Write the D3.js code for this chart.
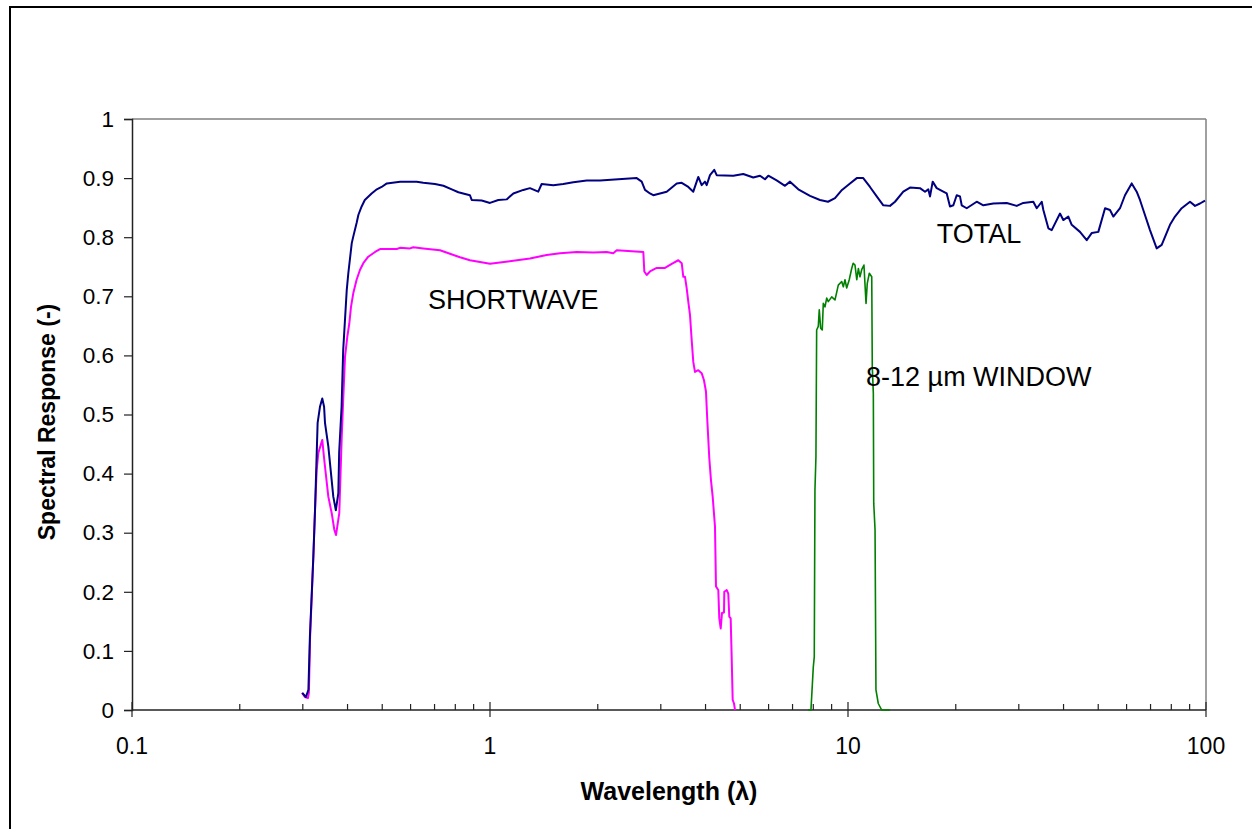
<!DOCTYPE html>
<html>
<head>
<meta charset="utf-8">
<script src="https://cdn.jsdelivr.net/npm/d3@7"></script>
<style>
  html, body { margin: 0; padding: 0; background: #fff; }
  svg { display: block; }
  text { font-family: "Liberation Sans", Arial, sans-serif; fill: #000; }
</style>
</head>
<body>
<svg id="chart" width="1252" height="829"></svg>
<script>
// ---- data: [wavelength (µm), spectral response] ----
const totalData = [[0.299,0.029],[0.306,0.022],[0.311,0.034],[0.314,0.124],[0.321,0.259],[0.3245,0.338],[0.330,0.486],[0.335,0.513],[0.340,0.527],[0.344,0.513],[0.346,0.486],[0.3535,0.446],[0.365,0.361],[0.371,0.338],[0.377,0.367],[0.379,0.435],[0.385,0.513],[0.389,0.609],[0.398,0.711],[0.402,0.739],[0.411,0.790],[0.415,0.801],[0.424,0.824],[0.429,0.838],[0.438,0.852],[0.447,0.863],[0.467,0.874],[0.483,0.881],[0.498,0.885],[0.515,0.891],[0.561,0.894],[0.624,0.894],[0.651,0.892],[0.702,0.890],[0.741,0.887],[0.782,0.881],[0.816,0.876],[0.852,0.873],[0.879,0.871],[0.889,0.863],[0.948,0.862],[1.0,0.858],[1.055,0.863],[1.113,0.864],[1.162,0.874],[1.239,0.880],[1.293,0.883],[1.364,0.877],[1.394,0.890],[1.502,0.888],[1.602,0.890],[1.709,0.893],[1.863,0.896],[2.029,0.896],[2.569,0.900],[2.653,0.894],[2.710,0.880],[2.798,0.874],[2.858,0.871],[3.116,0.877],[3.323,0.891],[3.432,0.892],[3.580,0.885],[3.697,0.877],[3.818,0.902],[3.902,0.888],[3.986,0.894],[4.029,0.888],[4.116,0.905],[4.231,0.914],[4.297,0.905],[4.782,0.904],[5.099,0.907],[5.438,0.901],[5.677,0.904],[5.864,0.898],[5.990,0.904],[6.320,0.896],[6.668,0.887],[6.887,0.894],[7.264,0.881],[7.832,0.870],[8.352,0.863],[8.794,0.860],[9.198,0.866],[9.620,0.880],[10.13,0.891],[10.58,0.900],[11.03,0.900],[11.52,0.885],[12.03,0.869],[12.55,0.854],[13.10,0.853],[13.53,0.860],[14.27,0.877],[14.90,0.884],[15.89,0.883],[16.41,0.877],[16.76,0.881],[16.95,0.869],[17.24,0.894],[17.69,0.883],[18.46,0.877],[18.87,0.874],[19.27,0.852],[19.69,0.854],[20.12,0.871],[20.55,0.869],[20.78,0.854],[21.46,0.849],[22.88,0.860],[23.88,0.854],[25.46,0.857],[27.76,0.858],[29.60,0.853],[30.88,0.858],[32.93,0.860],[33.67,0.849],[34.77,0.860],[35.13,0.846],[36.28,0.815],[37.07,0.812],[39.10,0.840],[39.94,0.829],[41.25,0.835],[42.16,0.821],[44.46,0.809],[46.43,0.795],[47.94,0.807],[50.03,0.809],[52.24,0.849],[53.93,0.846],[55.10,0.835],[57.52,0.849],[59.39,0.871],[62.01,0.891],[64.03,0.877],[65.40,0.863],[66.81,0.846],[69.75,0.812],[72.82,0.781],[75.21,0.787],[79.32,0.821],[81.91,0.835],[85.52,0.849],[90.22,0.860],[93.18,0.853],[96.21,0.857],[99.36,0.862]];

const shortwaveData = [[0.2985,0.029],[0.304,0.022],[0.310,0.020],[0.312,0.029],[0.3144,0.124],[0.321,0.259],[0.3245,0.338],[0.328,0.406],[0.3315,0.435],[0.340,0.457],[0.3444,0.423],[0.3535,0.361],[0.3613,0.333],[0.3674,0.305],[0.3714,0.296],[0.3793,0.333],[0.3853,0.462],[0.389,0.525],[0.3936,0.598],[0.3995,0.632],[0.4046,0.654],[0.409,0.682],[0.415,0.705],[0.424,0.728],[0.4335,0.745],[0.4427,0.756],[0.457,0.767],[0.4775,0.775],[0.4929,0.780],[0.5487,0.780],[0.5605,0.782],[0.5977,0.781],[0.6107,0.783],[0.651,0.781],[0.725,0.778],[0.773,0.772],[0.8245,0.766],[0.879,0.761],[1.0,0.755],[1.066,0.757],[1.162,0.760],[1.293,0.764],[1.440,0.770],[1.569,0.773],[1.747,0.775],[1.944,0.774],[2.118,0.775],[2.210,0.773],[2.259,0.778],[2.681,0.775],[2.698,0.742],[2.740,0.736],[2.798,0.742],[2.922,0.748],[3.082,0.748],[3.218,0.755],[3.357,0.761],[3.432,0.756],[3.467,0.733],[3.505,0.733],[3.543,0.714],[3.580,0.691],[3.620,0.668],[3.659,0.626],[3.697,0.589],[3.737,0.572],[3.818,0.575],[3.902,0.570],[3.960,0.558],[4.011,0.539],[4.045,0.491],[4.098,0.426],[4.142,0.389],[4.188,0.361],[4.251,0.310],[4.278,0.209],[4.342,0.203],[4.370,0.155],[4.410,0.138],[4.446,0.164],[4.504,0.165],[4.513,0.200],[4.583,0.203],[4.630,0.197],[4.660,0.158],[4.702,0.155],[4.732,0.090],[4.763,0.017],[4.804,0.011],[4.835,0.0]];

const windowData = [[7.73,0.0],[7.88,0.0],[8.00,0.073],[8.05,0.090],[8.085,0.372],[8.137,0.429],[8.174,0.643],[8.26,0.649],[8.313,0.677],[8.388,0.646],[8.475,0.643],[8.531,0.688],[8.625,0.682],[8.719,0.697],[8.810,0.691],[9.005,0.699],[9.198,0.694],[9.395,0.719],[9.603,0.725],[9.703,0.716],[9.808,0.728],[9.917,0.714],[10.08,0.728],[10.24,0.747],[10.34,0.756],[10.46,0.753],[10.58,0.728],[10.69,0.747],[10.80,0.733],[10.92,0.745],[11.08,0.753],[11.23,0.688],[11.32,0.722],[11.47,0.739],[11.65,0.733],[11.69,0.581],[11.77,0.536],[11.80,0.350],[11.90,0.305],[11.97,0.034],[12.15,0.011],[12.42,0.0],[13.10,0.0]];

const yTicks = [0, 0.1, 0.2, 0.3, 0.4, 0.5, 0.6, 0.7, 0.8, 0.9, 1];
const xMajorTicks = [0.1, 1, 10, 100];
const xTickLabels = ["0.1", "1", "10", "100"];
const xMinorMultipliers = [2, 3, 4, 5, 6, 7, 8, 9];

const seriesLabels = [
  { text: "TOTAL", wl: 17.7, r: 0.790 },
  { text: "SHORTWAVE", wl: 0.671, r: 0.679 },
  { text: "8-12 µm WINDOW", wl: 11.23, r: 0.548 }
];

(function () {
  const svg = d3.select("#chart");
  const mL = 132, mR = 1206, mT = 119, mB = 710;

  const x = d3.scaleLog().domain([0.1, 100]).range([mL, mR]);
  const y = d3.scaleLinear().domain([0, 1]).range([mB, mT]);

  // outer frame (extends past the window on right/bottom)
  svg.append("rect")
    .attr("x", 10).attr("y", 7).attr("width", 1260).attr("height", 840)
    .attr("fill", "#fff").attr("stroke", "#000").attr("stroke-width", 2);

  // plot area top/right border (gray)
  svg.append("line").attr("x1", mL).attr("x2", mR).attr("y1", mT).attr("y2", mT)
    .attr("stroke", "#808080").attr("stroke-width", 1.5);
  svg.append("line").attr("x1", mR).attr("x2", mR).attr("y1", mT).attr("y2", mB)
    .attr("stroke", "#808080").attr("stroke-width", 1.5);

  // y axis
  const yAxis = d3.axisLeft(y).tickValues(yTicks).tickSize(8).tickPadding(10)
    .tickFormat(d => String(Math.round(d * 10) / 10));
  const gy = svg.append("g").attr("transform", `translate(${mL},0)`).call(yAxis);
  gy.select(".domain").attr("stroke", "#222").attr("stroke-width", 1.5);
  gy.selectAll(".tick line").attr("stroke", "#222").attr("stroke-width", 1.2);
  gy.selectAll(".tick text").attr("font-size", 22.5)
    .attr("font-family", "'Liberation Sans', Arial, sans-serif").attr("fill", "#000");

  // x axis (major ticks crossing, minor ticks inside)
  const minorTicks = [];
  [0.1, 1, 10].forEach(dec => {
    xMinorMultipliers.forEach(m => minorTicks.push(+(dec * m).toPrecision(3)));
  });
  const gx = svg.append("g").attr("transform", `translate(0,${mB})`);
  gx.append("line").attr("x1", mL).attr("x2", mR).attr("y1", 0).attr("y2", 0)
    .attr("stroke", "#222").attr("stroke-width", 1.5);
  gx.selectAll("line.minor").data(minorTicks).enter().append("line")
    .attr("class", "minor")
    .attr("x1", d => x(d)).attr("x2", d => x(d)).attr("y1", 0).attr("y2", -6)
    .attr("stroke", "#222").attr("stroke-width", 1.2);
  gx.selectAll("line.major").data(xMajorTicks).enter().append("line")
    .attr("class", "major")
    .attr("x1", d => x(d)).attr("x2", d => x(d)).attr("y1", -8).attr("y2", 7)
    .attr("stroke", "#222").attr("stroke-width", 1.2);
  gx.selectAll("text.xl").data(xMajorTicks).enter().append("text")
    .attr("class", "xl")
    .attr("x", d => x(d)).attr("y", 44)
    .attr("text-anchor", "middle").attr("font-size", 23)
    .text((d, i) => xTickLabels[i]);

  // series
  const line = d3.line().x(d => x(d[0])).y(d => y(d[1])).curve(d3.curveLinear);
  const plot = svg.append("g");
  plot.append("path").datum(shortwaveData).attr("d", line)
    .attr("fill", "none").attr("stroke", "#FF00FF").attr("stroke-width", 2).attr("stroke-linejoin", "round");
  plot.append("path").datum(totalData).attr("d", line)
    .attr("fill", "none").attr("stroke", "#000080").attr("stroke-width", 2).attr("stroke-linejoin", "round");
  plot.append("path").datum(windowData).attr("d", line)
    .attr("fill", "none").attr("stroke", "#008000").attr("stroke-width", 1.6).attr("stroke-linejoin", "round");

  // series labels
  svg.selectAll("text.series").data(seriesLabels).enter().append("text")
    .attr("class", "series")
    .attr("x", d => x(d.wl)).attr("y", d => y(d.r))
    .attr("font-size", 27)
    .text(d => d.text);

  // axis titles
  svg.append("text")
    .attr("x", 669).attr("y", 800)
    .attr("text-anchor", "middle").attr("font-size", 25).attr("font-weight", "bold")
    .text("Wavelength (λ)");
  svg.append("text")
    .attr("transform", `translate(55,422) rotate(-90)`)
    .attr("text-anchor", "middle").attr("font-size", 23).attr("font-weight", "bold")
    .text("Spectral Response (-)");
})();
</script>
</body>
</html>
